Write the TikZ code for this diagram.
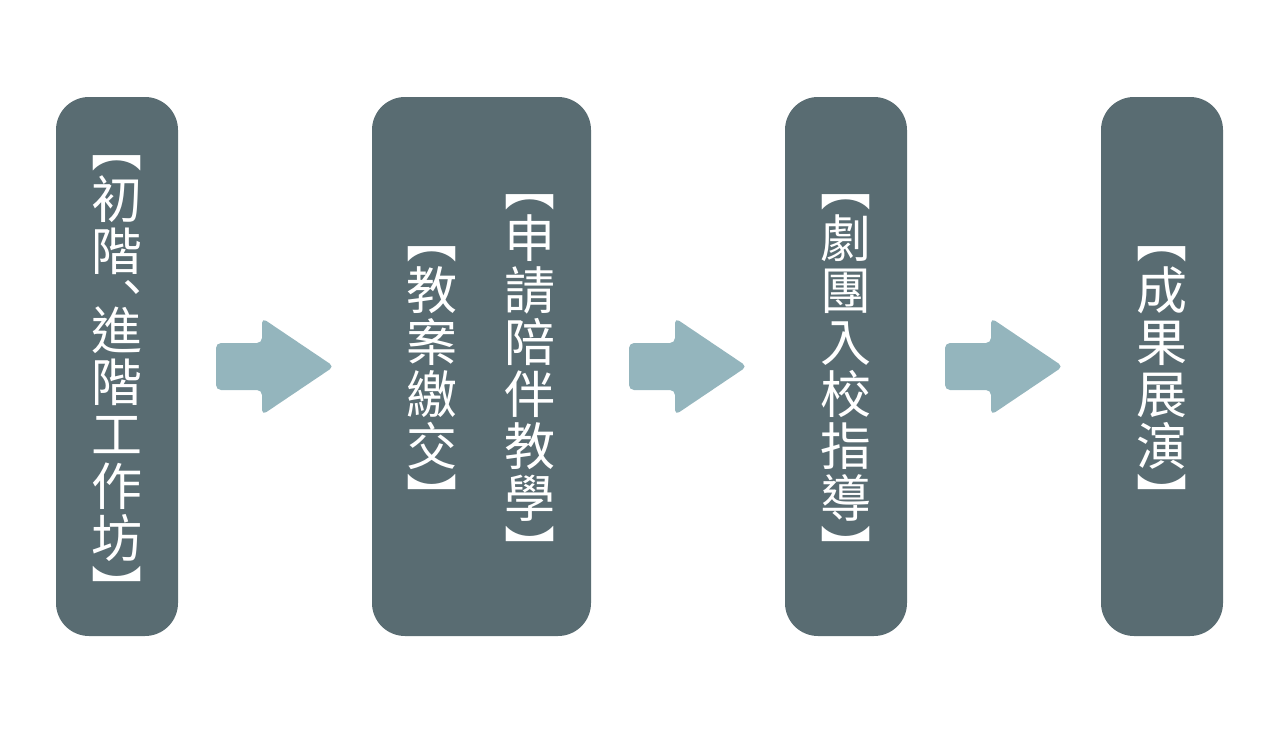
\documentclass[tikz,border=0pt]{standalone}
\usepackage{fontspec}
\newfontfamily\cjk{Noto Sans CJK TC}
\usetikzlibrary{calc}
\definecolor{stageslate}{HTML}{596C72}
\definecolor{arrowblue}{HTML}{94B5BD}
\tikzset{
  stagebox/.style={fill=stageslate, rounded corners=16.5pt, minimum height=269.5pt, inner sep=0pt},
  stagetext/.style={text=white, font=\cjk\fontsize{25.5}{26}\selectfont, align=center, inner sep=0pt, yshift=-8pt},
  flowarrow/.style={fill=arrowblue, rounded corners=2.5pt}
}
\begin{document}
\begin{tikzpicture}[x=0.5pt,y=-0.5pt]
\useasboundingbox (0,0) rectangle (1280,734);

\node[stagebox, minimum width=61pt] (workshop) at (117,366.5) {};
\node[stagebox, minimum width=109.5pt] (apply) at (481.5,366.5) {};
\node[stagebox, minimum width=61pt] (visit) at (846,366.5) {};
\node[stagebox, minimum width=61pt] (show) at (1162,366.5) {};

\node[stagetext] (workshoptext) at (workshop.center) {︻\\初\\階\\︑\\[-12.5pt]進\\階\\工\\作\\坊\\︼};
\node[stagetext, xshift=24.25pt] (applytext) at (apply.center) {︻\\申\\請\\陪\\伴\\教\\學\\︼};
\node[stagetext, xshift=-24.75pt] (plantext) at (apply.center) {︻\\教\\案\\繳\\交\\︼};
\node[stagetext] (visittext) at (visit.center) {︻\\劇\\團\\入\\校\\指\\導\\︼};
\node[stagetext] (showtext) at (show.center) {︻\\成\\果\\展\\演\\︼};

% arrows between the stages
\coordinate (gapA) at ($(workshop.east)!0.5!(apply.west)$);
\coordinate (gapB) at ($(apply.east)!0.5!(visit.west)$);
\coordinate (gapC) at ($(visit.east)!0.5!(show.west)$);
\foreach \gap in {gapA,gapB,gapC}
  \fill[flowarrow, shift={(\gap)}] (-59,-23.5) -- (-13,-23.5) -- (-13,-48.5) -- (59,0)
    -- (-13,48.5) -- (-13,23.5) -- (-59,23.5) -- cycle;
\end{tikzpicture}
\end{document}
